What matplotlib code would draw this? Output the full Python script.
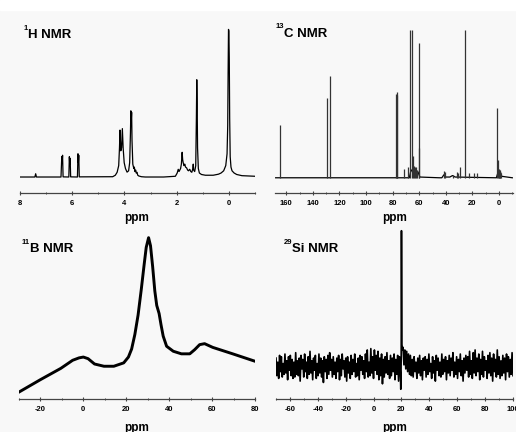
import numpy as np
import matplotlib
matplotlib.use("Agg")
import matplotlib.pyplot as plt
from matplotlib.ticker import MultipleLocator

plt.rcParams['font.family'] = ['Liberation Sans', 'DejaVu Sans']
plt.rcParams['font.weight'] = 'bold'
plt.rcParams['axes.unicode_minus'] = False

# 1H NMR spectrum (ppm, intensity)
h_ppm = [8.0, 7.43, 7.40, 7.37, 6.43, 6.40, 6.385, 6.37, 6.35, 6.13, 6.11, 6.095, 6.08, 6.06,
         5.80, 5.78, 5.765, 5.75, 5.73, 4.45, 4.35, 4.28, 4.22, 4.19, 4.17, 4.14, 4.11, 4.08,
         4.05, 4.01, 3.96, 3.90, 3.84, 3.80, 3.77, 3.755, 3.74, 3.725, 3.71, 3.68, 3.64, 3.62,
         3.60, 3.57, 3.55, 3.52, 3.49, 3.45, 3.35, 3.2, 2.5, 2.05, 1.98, 1.94, 1.91, 1.88,
         1.85, 1.82, 1.79, 1.77, 1.75, 1.72, 1.69, 1.66, 1.62, 1.58, 1.55, 1.50, 1.46, 1.42,
         1.38, 1.365, 1.35, 1.31, 1.27, 1.245, 1.23, 1.215, 1.20, 1.17, 1.13, 1.05, 0.9, 0.6,
         0.4, 0.3, 0.2, 0.12, 0.07, 0.045, 0.03, 0.015, 0.0, -0.015, -0.03, -0.05, -0.08, -0.12,
         -0.2, -0.3, -0.5, -1.0]
h_int = [0.3, 0.3, 2.5, 0.3, 0.3, 14, 10, 15, 0.4, 0.3, 14, 9, 13, 0.4,
         0.3, 16, 10, 15, 0.4, 0.5, 1.5, 3.5, 8, 20, 32, 18, 20, 33,
         20, 10, 6, 3.6, 4.5, 10, 30, 45, 38, 44, 25, 9, 6, 7,
         4, 5, 3, 3.5, 1.5, 1.0, 0.5, 0.3, 0.3, 0.8, 3, 5.5, 4, 5,
         6, 9, 17, 12, 10, 8, 9, 7, 6.5, 5, 4.5, 5.5, 4, 3.5,
         6, 9, 5, 4, 8, 40, 66, 50, 20, 6, 3, 2, 1.5, 1.5,
         2.2, 3.0, 4.5, 8, 16, 35, 70, 100, 99, 80, 40, 14, 7, 4.5,
         3, 2, 1.2, 0.8]

# 13C NMR lines (ppm, height)
c_lines_ppm = [165.0, 129.4, 127.2, 77.3, 77.0, 76.7, 71.8, 68.5, 66.9, 65.2, 64.6, 64.0,
               63.4, 62.6, 62.0, 60.5, 60.2, 41.3, 41.0, 35.0, 31.5, 31.0, 29.3, 25.8, 22.7,
               18.6, 16.9, 1.3, 1.0, 0.3, -0.2, -0.6, -1.0, -1.4]
c_lines_int = [36, 54, 69, 57, 58, 56, 6, 7, 100, 100, 15, 8,
               7, 7, 5, 91, 20, 4.5, 4, 2, 4, 3, 7, 100, 3,
               3, 3, 47, 12, 5, 6, 5, 4, 3]
c_base_ppm = [168, 67.5, 66.5, 65, 63, 61, 59.5, 45, 43, 41.5, 40, 37, 35, 33, 2, 1, 0, -1, -2, -10]
c_base_int = [0, 0, 4, 6, 5, 4, 0.5, 0, 0, 2, 0.5, 0.5, 1.5, 0.5, 0, 3, 5, 4, 1, 0]

# 11B NMR curve
b_ppm = [-30, -20, -10.5, -5, -2, 0, 2.2, 5.2, 9.6, 14.2, 18.8, 21.0, 22.5, 24, 25.5, 27.0,
         28.3, 29.3, 30.4, 31.3, 32.3, 33.3, 34.2, 35.3, 36.2, 37.2, 38.8, 41.9, 45.7, 49.6,
         51.9, 54.2, 56.5, 60.3, 69.6, 80]
b_int = [4.3, 12, 19, 24, 25.5, 26, 25, 21.7, 20.3, 20.3, 22.4, 26, 31, 40, 52, 68,
         83, 94, 100, 95, 82, 67, 58, 53, 46, 39, 32.7, 29.6, 28, 28,
         30.6, 33.7, 34.3, 32, 28, 23.4]

# 29Si NMR: baseline noise either side of the 20 ppm line
si_left = [6, -7, 3, -9, 8, -4, 7, -8, 2, -6, 9, -5, 4, -10, 7, -3, 8, -7, 5, -9,
           3, -8, 10, -6, 4, -7, 6, -11, 8, -2, 5, -8, 9, -4, 3, -9, 7, -6, 11, -5,
           4, -10, 6, -3, 8, -9, 2, -7, 9, -5, 6, -8, 4, -12, 7, -4, 5, -9, 8, -6,
           10, -3, 5, -8, 7, -6, 3, -9, 6, -4, 8, -10, 5, -7, 9, -2, 4, -8, 6, -11,
           7, -5, 3, -9, 8, -6, 5, -4, 9, -8, 2, -7, 6, -10, 8, -3, 7, -6, 4, -9,
           9, -4, 12, -8, 3, -7, 13, -5, 7, -9, 12, -3, 8, -6, 11, -10, 6, -7, 9, -13,
           5, -8, 7, -5, 10, -6, 4, -9, 8, -7, 6, -4, 9, -10, 5, -6, 8, -11, 7, -5]
si_peak_ppm = [19.5, 19.8, 20.0, 20.3, 20.7]
si_peak_int = [-17, 5, 100, 16, 12]
si_right = [14, 1, 12, -2, 11, -4, 9, -6, 8, -7, 5, -8, 7, -4, 3, -9, 6, -5, 8, -7,
            4, -10, 6, -3, 7, -8, 5, -6, 9, -4, 2, -9, 7, -5, 4, -11, 8, -3, 6, -7,
            3, -8, 9, -6, 5, -4, 7, -10, 4, -5, 8, -7, 6, -3, 10, -8, 3, -6, 7, -9,
            5, -4, 9, -7, 4, -11, 6, -5, 8, -3, 7, -8, 11, -6, 4, -9, 10, -5, 12, -7,
            6, -4, 9, -10, 5, -6, 11, -8, 7, -3, 4, -9, 8, -5, 10, -7, 6, -11, 9, -4,
            5, -8, 12, -6, 7, -9, 4, -7, 8, -5, 6, -10, 9, -4, 7, -8, 5, -6, 10, -7]

si_ppm = np.concatenate([np.linspace(-70, 19.2, len(si_left)), si_peak_ppm,
                         np.linspace(21.1, 100, len(si_right))])
si_int = np.concatenate([si_left, si_peak_int, si_right])

W, H = 516, 432
fig = plt.figure(figsize=(W / 100, H / 100), dpi=100, facecolor='#f8f8f8')
fig.patches.append(plt.Rectangle((0, 1 - 10 / H), 1, 10 / H, transform=fig.transFigure,
                                 color='white', zorder=-1))


def box(x0, x1, ytop, ybot):
    return [x0 / W, 1 - ybot / H, (x1 - x0) / W, (ybot - ytop) / H]


def style(ax, major, minor):
    ax.set_facecolor('none')
    for s in ['top', 'right', 'left']:
        ax.spines[s].set_visible(False)
    ax.spines['bottom'].set_color('#444444')
    ax.spines['bottom'].set_linewidth(0.9)
    ax.set_yticks([])
    ax.xaxis.set_major_locator(MultipleLocator(major))
    ax.xaxis.set_minor_locator(MultipleLocator(minor))
    ax.tick_params(axis='x', which='major', direction='inout', length=3, width=0.8,
                   color='#444444', labelsize=5.5, pad=3.3)
    ax.tick_params(axis='x', which='minor', direction='inout', length=2, width=0.7,
                   color='#444444')
    for lab in ax.get_xticklabels():
        lab.set_fontweight('bold')


def title(x, y, sup, name):
    fig.text(x / W, 1 - y / H, sup, fontsize=5.5, fontweight='bold', va='center', ha='right')
    fig.text(x / W, 1 - (y + 7) / H, name, fontsize=9.5, fontweight='bold', va='center', ha='left')


# 1H
ax1 = fig.add_axes(box(20, 255, 22, 193))
ax1.plot(h_ppm, h_int, color='black', lw=0.9)
ax1.set_xlim(8, -1)
ax1.set_ylim(-10.5, 105)
style(ax1, 2, 1)
ax1.set_xticks([8, 6, 4, 2, 0])

# 13C
ax2 = fig.add_axes(box(275, 513, 22, 193))
ax2.plot(c_base_ppm, c_base_int, color='black', lw=0.9)
ax2.vlines(c_lines_ppm, 0, c_lines_int, color='#333333', lw=0.9)
ax2.set_xlim(168.5, -10.5)
ax2.set_ylim(-10.3, 105.4)
style(ax2, 20, 10)
ax2.set_xticks(list(range(160, -1, -20)))

# 11B
ax3 = fig.add_axes(box(19, 255, 228, 399))
ax3.plot(b_ppm, b_int, color='black', lw=2.1, solid_joinstyle='round')
ax3.set_xlim(-30, 80)
ax3.set_ylim(0, 106)
style(ax3, 20, 10)

# 29Si
ax4 = fig.add_axes(box(276, 513, 228, 399))
ax4.plot(si_ppm, si_int, color='black', lw=1.2)
ax4.set_xlim(-70, 100)
ax4.set_ylim(-24.2, 102)
style(ax4, 20, 10)

title(28, 28, '1', 'H NMR')
title(284, 27, '13', 'C NMR')
title(30, 242, '11', 'B NMR')
title(292, 242, '29', 'Si NMR')

fig.text(137 / W, 1 - 221 / H, 'ppm', fontsize=8.5, fontweight='bold', ha='center', va='baseline')
fig.text(395 / W, 1 - 221 / H, 'ppm', fontsize=8.5, fontweight='bold', ha='center', va='baseline')
fig.text(137 / W, 1 - 431 / H, 'ppm', fontsize=8.5, fontweight='bold', ha='center', va='baseline')
fig.text(395 / W, 1 - 431 / H, 'ppm', fontsize=8.5, fontweight='bold', ha='center', va='baseline')

fig.savefig('out.png', dpi=100, facecolor=fig.get_facecolor())
